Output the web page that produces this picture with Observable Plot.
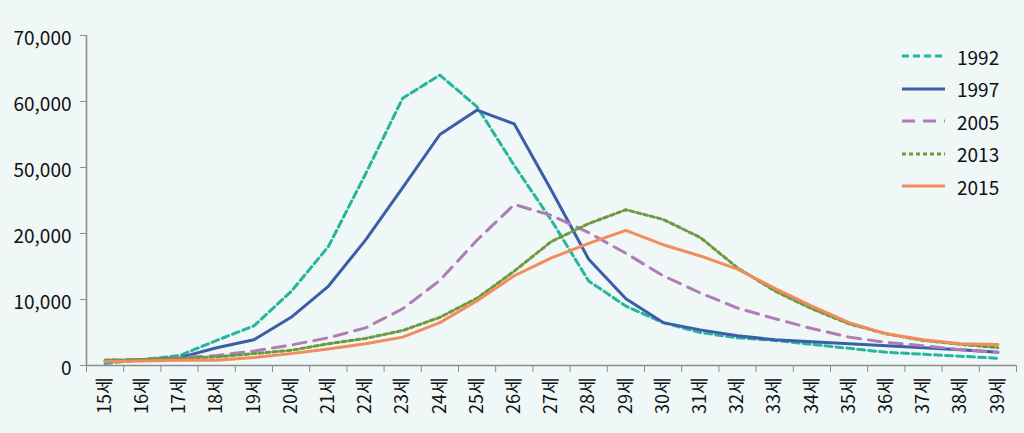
<!DOCTYPE html>
<html>
<head>
<meta charset="utf-8">
<script src="https://cdn.jsdelivr.net/npm/d3@7"></script>
<script src="https://cdn.jsdelivr.net/npm/@observablehq/plot@0.6"></script>
<style>
  body { margin: 0; background: #eff7f7; }
  #wrap { position: relative; width: 1024px; height: 433px; background: #eff7f7; }
  #legend { position: absolute; left: 902px; top: 40px; font-family: 'Noto Sans CJK KR', 'Noto Sans', sans-serif; font-size: 19px; color: #111; }
  .item { display: flex; align-items: center; height: 32.5px; }
  .item svg { margin-right: 12px; }
</style>
</head>
<body>
<div id="wrap"><div id="legend"></div></div>
<script>
const ages = [15,16,17,18,19,20,21,22,23,24,25,26,27,28,29,30,31,32,33,34,35,36,37,38,39];
const yTicks = [0, 10000, 20000, 50000, 60000, 70000];

const seriesNames = ["1992", "1997", "2005", "2013", "2015"];
const v1992 = [300, 900, 1500, 3800, 6000, 11200, 18000, 47000, 60500, 64000, 59200, 50300, 25900, 12800, 9000, 6500, 5000, 4200, 3800, 3200, 2600, 2000, 1700, 1400, 1100];
const v1997 = [700, 800, 1200, 2700, 3900, 7300, 12000, 19000, 40800, 55000, 58700, 56600, 39500, 16100, 10100, 6500, 5400, 4500, 3900, 3600, 3300, 3000, 2700, 2400, 2000];
const v2005 = [800, 900, 1200, 1500, 2200, 3100, 4200, 5700, 8600, 12900, 19000, 33200, 28200, 20400, 17000, 13600, 11000, 8700, 7100, 5600, 4300, 3500, 3000, 2400, 2000];
const v2013 = [800, 900, 1100, 1300, 1800, 2300, 3300, 4100, 5300, 7300, 10200, 14300, 18800, 24500, 30800, 26400, 19400, 14800, 11300, 8600, 6300, 4800, 3800, 3200, 2700];
const v2015 = [600, 700, 800, 800, 1200, 1800, 2500, 3300, 4300, 6500, 9800, 13600, 16300, 18500, 21400, 18300, 16600, 14600, 11700, 9000, 6500, 4800, 3900, 3300, 3200];
const seriesValues = [v1992, v1997, v2005, v2013, v2015];

const colors = ["#27b59e", "#3c5da8", "#b07cb8", "#6c9a3f", "#f28c5d"];
const dashes = ["7,4", null, "13,8", "4,3", null];

const W = 1024, H = 433, mL = 86, mR = 8, mT = 35, mB = 68;
const bounds = [ages[0] - 0.5].concat(ages.map(a => a + 0.5));
const axisGray = "#8c8c8c";
const font = "'Noto Sans CJK KR', 'Noto Sans', sans-serif";

// the reference axis is broken: 20,000 → 50,000 takes one tick step
const broken = d3.scaleLinear().domain([0, 20000, 50000, 70000]).range([0, 2, 3, 5]);
const tickPos = yTicks.map(broken);
const fmt = d3.format(",");
const tickLabel = p => fmt(Math.round(broken.invert(p)));

const lineMarks = seriesNames.map((name, s) =>
  Plot.line(ages.map((a, i) => ({age: a, value: seriesValues[s][i]})), {
    x: "age", y: "value",
    stroke: colors[s], strokeWidth: 3,
    strokeDasharray: dashes[s] ?? undefined
  })
);

const chart = Plot.plot({
  width: W, height: H,
  marginLeft: mL, marginRight: mR, marginTop: mT, marginBottom: mB,
  style: {background: "#eff7f7", fontFamily: font, fontSize: "18px", color: "#111"},
  x: {domain: [ages[0] - 0.5, ages[ages.length - 1] + 0.5]},
  y: {type: "linear", transform: broken, domain: [0, 5]},
  marks: [
    Plot.axisY({ticks: tickPos, tickFormat: () => "", tickSize: 6, stroke: axisGray, label: null}),
    Plot.axisY({ticks: tickPos, tickFormat: tickLabel, tickSize: 0, tickPadding: 15, dy: 3, fill: "#111", fontSize: 19, label: null}),
    Plot.axisX({ticks: ages, tickFormat: d => d + "세", tickSize: 0, tickPadding: 12, tickRotate: -90, fill: "#111", fontSize: 18, label: null}),
    Plot.axisX({ticks: bounds, tickFormat: () => "", tickSize: 7, stroke: axisGray, label: null}),
    Plot.ruleY([0], {stroke: axisGray, strokeWidth: 1.6}),
    Plot.ruleX([ages[0] - 0.5], {stroke: axisGray, strokeWidth: 1.6}),
    ...lineMarks
  ]
});
document.getElementById("wrap").prepend(chart);

const legend = document.getElementById("legend");
seriesNames.forEach((name, s) => {
  const item = document.createElement("div");
  item.className = "item";
  item.innerHTML = `<svg width="43" height="6"><line x1="0" y1="3" x2="43" y2="3" stroke="${colors[s]}" stroke-width="3" ${dashes[s] ? `stroke-dasharray="${dashes[s]}"` : ""}/></svg><span>${name}</span>`;
  legend.appendChild(item);
});
</script>
</body>
</html>
